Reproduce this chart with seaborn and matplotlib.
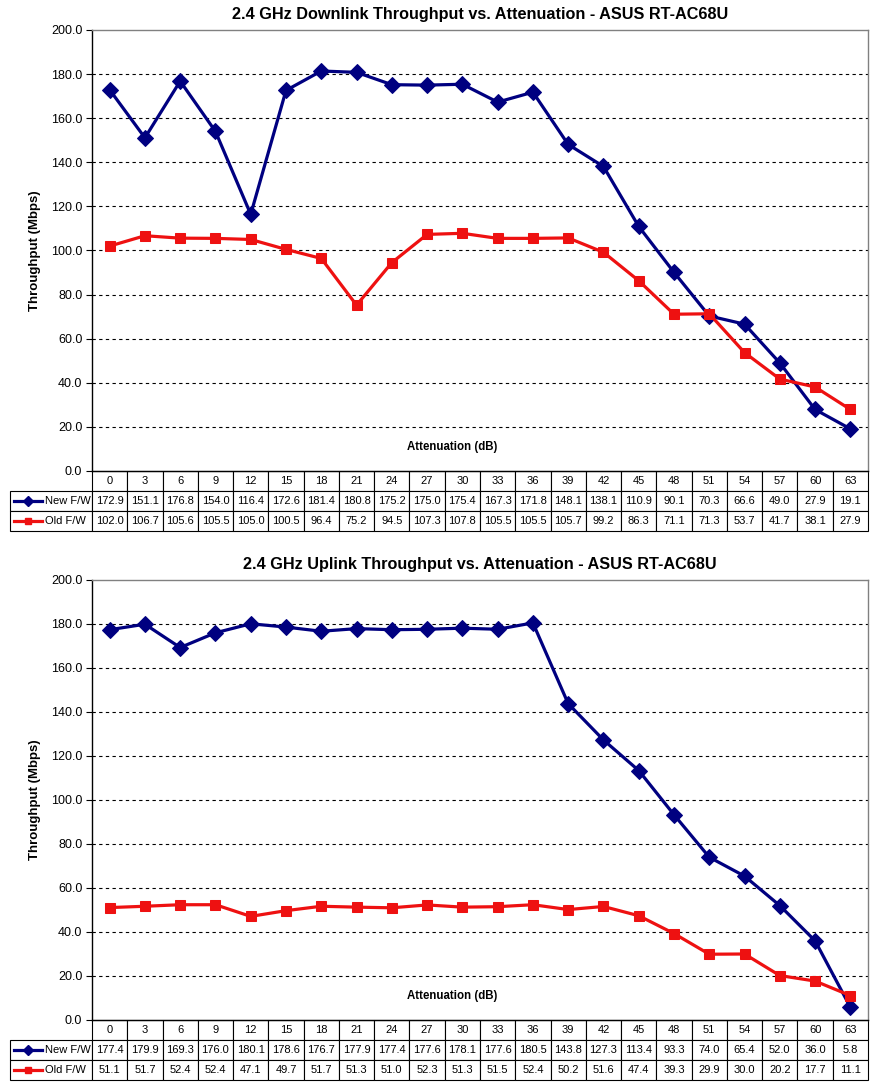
"""
2.4 GHz throughput vs. attenuation - ASUS RT-AC68U (new vs old firmware)
"""
import pandas as pd
import matplotlib.pyplot as plt
import seaborn as sns
import numpy as np

# Data
attenuation = [0, 3, 6, 9, 12, 15, 18, 21, 24, 27, 30, 33, 36, 39, 42, 45, 48, 51, 54, 57, 60, 63]

down_new = [172.9, 151.1, 176.8, 154.0, 116.4, 172.6, 181.4, 180.8, 175.2, 175.0, 175.4,
            167.3, 171.8, 148.1, 138.1, 110.9, 90.1, 70.3, 66.6, 49.0, 27.9, 19.1]
down_old = [102.0, 106.7, 105.6, 105.5, 105.0, 100.5, 96.4, 75.2, 94.5, 107.3, 107.8,
            105.5, 105.5, 105.7, 99.2, 86.3, 71.1, 71.3, 53.7, 41.7, 38.1, 27.9]

up_new = [177.4, 179.9, 169.3, 176.0, 180.1, 178.6, 176.7, 177.9, 177.4, 177.6, 178.1,
          177.6, 180.5, 143.8, 127.3, 113.4, 93.3, 74.0, 65.4, 52.0, 36.0, 5.8]
up_old = [51.1, 51.7, 52.4, 52.4, 47.1, 49.7, 51.7, 51.3, 51.0, 52.3, 51.3,
          51.5, 52.4, 50.2, 51.6, 47.4, 39.3, 29.9, 30.0, 20.2, 17.7, 11.1]

series_names = ['New F/W', 'Old F/W']
colors = {'New F/W': '#000080', 'Old F/W': '#EE1111'}
markers = {'New F/W': 'D', 'Old F/W': 's'}

plt.rcParams['font.family'] = ['Liberation Sans', 'DejaVu Sans']

fig = plt.figure(figsize=(8.75, 10.84), dpi=100)
W, H = 875, 1084


def px_axes(left, top, right, bottom):
    return fig.add_axes([left / W, 1 - bottom / H, (right - left) / W, (bottom - top) / H])


def draw_chart(ax, new_vals, old_vals, title, ax_h_px):
    n = len(attenuation)
    df = pd.DataFrame({
        'pos': list(range(n)) * 2,
        'value': new_vals + old_vals,
        'series': ['New F/W'] * n + ['Old F/W'] * n,
    })
    for name in series_names:
        sub = df[df['series'] == name]
        sns.lineplot(data=sub, x='pos', y='value', ax=ax, color=colors[name],
                     marker=markers[name], markersize=8 if name == 'New F/W' else 7.5,
                     markeredgecolor=colors[name], linewidth=2.3, legend=False)

    ax.set_xlim(-0.5, n - 0.5)
    ax.set_ylim(0, 200)
    ax.set_yticks(np.arange(0, 201, 20))
    ax.set_yticklabels([f'{v:.1f}' for v in np.arange(0, 201, 20)], fontsize=9)
    ax.set_xticks([])
    ax.set_xlabel('')
    ax.set_ylabel('Throughput (Mbps)', fontsize=9.5, fontweight='bold', labelpad=7)
    ax.tick_params(axis='y', direction='out', length=4, width=0.8, pad=3)
    for yv in range(20, 200, 20):
        ax.axhline(yv, color='black', linestyle=(0, (3, 3)), linewidth=0.8, zorder=0)
    ax.spines['left'].set_color('black')
    ax.spines['bottom'].set_color('black')
    ax.spines['top'].set_color('#808080')
    ax.spines['right'].set_color('#808080')
    for s in ax.spines.values():
        s.set_linewidth(1.0)
    ax.set_title(title, fontsize=11.7, fontweight='bold', pad=8)
    ax.text((452 - 92) / 776, 0.054, 'Attenuation (dB)', transform=ax.transAxes,
            ha='center', va='center', fontsize=8.3, fontweight='bold')

    # data table under the plot
    rh = 20 / ax_h_px
    left = (10 - 92) / 776
    cell_text = [[''] + [f'{v:.1f}' for v in new_vals],
                 [''] + [f'{v:.1f}' for v in old_vals]]
    col_labels = [''] + [str(a) for a in attenuation]
    widths = [82] + [776 / n] * n
    tbl = ax.table(cellText=cell_text, colLabels=col_labels, colWidths=widths,
                   cellLoc='center', bbox=[left, -3 * rh, 1 - left, 3 * rh])
    tbl.auto_set_font_size(False)
    tbl.set_fontsize(8)
    for (r, c), cell in tbl.get_celld().items():
        cell.set_edgecolor('black')
        cell.set_linewidth(0.8)
        if r == 0 and c == 0:
            cell.visible_edges = ''
    for i, name in enumerate(series_names):
        yc = -(1.5 + i) * rh
        x0, x1 = (14 - 92) / 776, (42 - 92) / 776
        ax.plot([x0, x1], [yc, yc], transform=ax.transAxes, color=colors[name],
                linewidth=2.3, clip_on=False)
        ax.plot([(x0 + x1) / 2], [yc], transform=ax.transAxes, color=colors[name],
                marker=markers[name], markersize=5, clip_on=False)
        ax.text((45 - 92) / 776, yc, name, transform=ax.transAxes, ha='left',
                va='center', fontsize=8)


ax1 = px_axes(92, 30, 868, 471)
draw_chart(ax1, down_new, down_old,
           '2.4 GHz Downlink Throughput vs. Attenuation - ASUS RT-AC68U', 441)

ax2 = px_axes(92, 580, 868, 1020)
draw_chart(ax2, up_new, up_old,
           '2.4 GHz Uplink Throughput vs. Attenuation - ASUS RT-AC68U', 440)

plt.savefig('out.png', dpi=100)
plt.close()
